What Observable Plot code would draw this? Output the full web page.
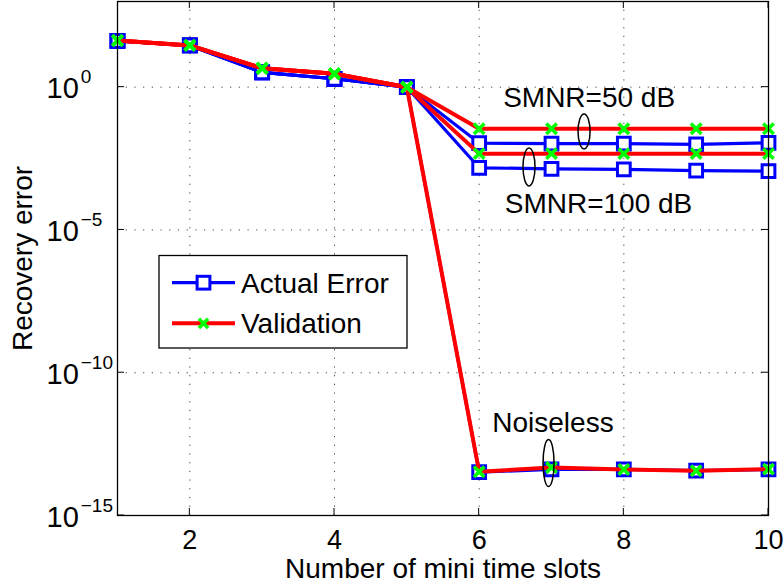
<!DOCTYPE html>
<html><head><meta charset="utf-8">
<script src="https://cdn.jsdelivr.net/npm/d3@7"></script>
<script src="https://cdn.jsdelivr.net/npm/@observablehq/plot@0.6"></script>
<style>body{margin:0;background:#fff}#chart{width:784px;height:586px}</style>
</head><body><div id="chart"></div>
<script>
// ---- data ----
const slots = [1, 2, 3, 4, 5, 6, 7, 8, 9, 10];
const actual50  = [41.5, 28.8, 3.3, 1.97, 1, 0.0110, 0.0105, 0.0105, 0.0099, 0.0113];
const valid50   = [43, 29, 4.6, 2.95, 1, 0.035, 0.035, 0.035, 0.035, 0.035];
const actual100 = [41.5, 28.8, 3.3, 1.97, 1, 0.0015, 0.00138, 0.00132, 0.0012, 0.00115];
const valid100  = [43, 29, 4.6, 2.95, 1, 0.0047, 0.0047, 0.0047, 0.0047, 0.0047];
const actualNL  = [41.5, 28.8, 3.3, 1.97, 1, 3.3e-14, 4.1e-14, 4.1e-14, 3.7e-14, 4.1e-14];
const validNL   = [43, 29, 4.6, 2.95, 1, 3.4e-14, 4.8e-14, 4.1e-14, 3.7e-14, 4.2e-14];
const xTicks = [2, 4, 6, 8, 10];
const yTicks = [1e0, 1e-5, 1e-10, 1e-15];
const yTickLabels = ["10^0", "10^−5", "10^−10", "10^−15"];
const seriesNames = ["Actual Error", "Validation"];
const annLabels = ["SMNR=50 dB", "SMNR=100 dB", "Noiseless"];
const annX = [7.52, 7.65, 7.02];
const annY = [0.43, 7.9e-5, 1.7e-12];
const ellX = [7.457, 6.696, 6.966];
const ellY = [0.0271, 0.00155, 6.6e-14];
const xLabel = "Number of mini time slots";
const yLabel = "Recovery error";

// ---- build table ----
const groups = [
  ["50", "Actual Error", actual50], ["50", "Validation", valid50],
  ["100", "Actual Error", actual100], ["100", "Validation", valid100],
  ["NL", "Actual Error", actualNL], ["NL", "Validation", validNL]
];
const rows = groups.flatMap(([sc, s, vals]) => vals.map((v, i) => ({key: sc + s, series: s, x: slots[i], y: v})));
const act = rows.filter(d => d.series === "Actual Error");
const val = rows.filter(d => d.series === "Validation");

const FONT = "'Liberation Sans', Arial, Helvetica, sans-serif";
const BLUE = "#0000ff", RED = "#ff0000", GREEN = "#00ff00";

const plot = Plot.plot({
  width: 784, height: 586,
  marginLeft: 117, marginRight: 16, marginTop: 1, marginBottom: 71,
  style: {fontFamily: FONT, fontSize: "26px", color: "#000", background: "#fff"},
  x: {domain: [1, 10], label: null, axis: null},
  y: {type: "log", domain: [1e-15, 1e3], label: null, axis: null},
  marks: [
    Plot.ruleX(xTicks.slice(0, -1), {stroke: "#444", strokeWidth: 1, strokeDasharray: "1.2,7.5"}),
    Plot.ruleY(yTicks.slice(0, -1), {stroke: "#444", strokeWidth: 1, strokeDasharray: "1.2,7.5"}),
    Plot.line(act, {x: "x", y: "y", z: "key", stroke: BLUE, strokeWidth: 3.2}),
    Plot.dot(act, {x: "x", y: "y", symbol: "square", r: 7.2, fill: "#fff", stroke: BLUE, strokeWidth: 3}),
    Plot.line(val, {x: "x", y: "y", z: "key", stroke: RED, strokeWidth: 4}),
    Plot.dot(val, {x: "x", y: "y", symbol: "times", r: 4.8, stroke: GREEN, strokeWidth: 3.5}),
    Plot.frame({stroke: "#000", strokeWidth: 1.3}),
    // tick labels
    Plot.text(xTicks, {x: d => d, frameAnchor: "bottom", lineAnchor: "top", textAnchor: "middle", dy: 14, fontSize: 27, text: d => String(d)}),
    Plot.text(yTicks, {y: d => d, frameAnchor: "left", lineAnchor: "middle", textAnchor: "start", dx: -71, dy: 2, fontSize: 29, text: d => yTickLabels[yTicks.indexOf(d)]}),
    // axis titles
    Plot.text([xLabel], {frameAnchor: "bottom", lineAnchor: "middle", textAnchor: "middle", dy: 54, fontSize: 28, text: d => d}),
    Plot.text([yLabel], {frameAnchor: "left", lineAnchor: "middle", textAnchor: "middle", dx: -94, rotate: -90, fontSize: 28, text: d => d}),
    // annotations
    Plot.text(annLabels.map((t, i) => ({t, x: annX[i], y: annY[i]})), {x: "x", y: "y", text: "t", fontSize: 28})
  ]
});
document.getElementById("chart").appendChild(plot);

const svg = d3.select(plot);
const sx = plot.scale("x"), sy = plot.scale("y");
const X = v => sx.apply(v), Y = v => sy.apply(v);

// superscript tick labels
svg.selectAll("text").each(function() {
  const t = this.textContent;
  if (!t.includes("^")) return;
  const [base, exp] = t.split("^");
  const el = d3.select(this);
  el.text(null);
  el.append("tspan").text(base);
  el.append("tspan").attr("dx", "2").attr("dy", "-15").style("font-size", "19px").text(exp);
});

// inward ticks on all four sides
const g = svg.append("g").attr("stroke", "#000").attr("stroke-width", 1);
const [x0, x1] = sx.range, [yb, yt] = sy.range;
const TL = 7;
xTicks.forEach(v => {
  g.append("line").attr("x1", X(v)).attr("x2", X(v)).attr("y1", yb).attr("y2", yb - TL);
  g.append("line").attr("x1", X(v)).attr("x2", X(v)).attr("y1", yt).attr("y2", yt + TL);
});
yTicks.forEach(v => {
  g.append("line").attr("y1", Y(v)).attr("y2", Y(v)).attr("x1", x0).attr("x2", x0 + TL);
  g.append("line").attr("y1", Y(v)).attr("y2", Y(v)).attr("x1", x1).attr("x2", x1 - TL);
});

// annotation ellipses
const ellR = [[6, 17.5], [6, 19], [5.5, 23.5]];
ellX.forEach((v, i) => {
  svg.append("ellipse").attr("cx", X(v)).attr("cy", Y(ellY[i]))
    .attr("rx", ellR[i][0]).attr("ry", ellR[i][1])
    .attr("fill", "none").attr("stroke", "#000").attr("stroke-width", 1.5);
});

// legend
const lg = svg.append("g").attr("font-family", FONT).attr("font-size", 28).attr("text-anchor", "start");
lg.append("rect").attr("x", 159).attr("y", 255.5).attr("width", 248).attr("height", 92.5)
  .attr("fill", "#fff").attr("stroke", "#000").attr("stroke-width", 1.3);
const rowY = [282.7, 323.3];
seriesNames.forEach((name, i) => {
  const y = rowY[i];
  const isA = i === 0;
  lg.append("line").attr("x1", 172).attr("x2", 235).attr("y1", y).attr("y2", y)
    .attr("stroke", isA ? BLUE : RED).attr("stroke-width", isA ? 3.2 : 4);
  if (isA) {
    lg.append("rect").attr("x", 203.5 - 6.4).attr("y", y - 6.4).attr("width", 12.8).attr("height", 12.8)
      .attr("fill", "#fff").attr("stroke", BLUE).attr("stroke-width", 3);
  } else {
    const r = 4.6;
    lg.append("path").attr("d", `M${203.5 - r},${y - r}L${203.5 + r},${y + r}M${203.5 - r},${y + r}L${203.5 + r},${y - r}`)
      .attr("stroke", GREEN).attr("stroke-width", 3.5);
  }
  lg.append("text").attr("x", 241).attr("y", y).attr("dy", "0.35em").text(name);
});
</script>
</body></html>
